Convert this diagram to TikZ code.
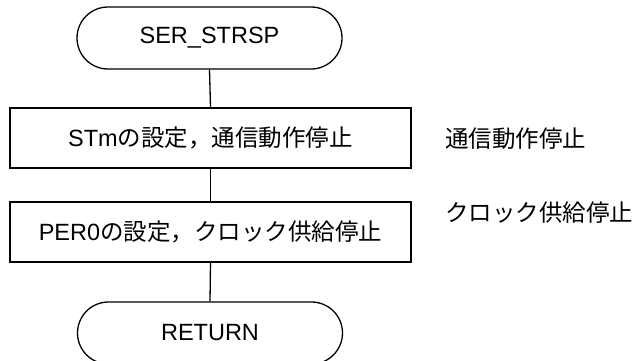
\documentclass[tikz,border=0pt]{standalone}
\usepackage{fontspec}
\setmainfont{Liberation Sans}
\newfontfamily\jp{Noto Sans CJK JP}
\usetikzlibrary{shapes.misc}
\begin{document}
\begin{tikzpicture}[x=1pt,y=-1pt,
  every node/.style={font=\fontsize{23.5}{28}\selectfont, inner sep=0pt},
  term/.style={draw, line width=1.3pt, rounded rectangle, minimum width=265pt, minimum height=62pt},
  proc/.style={draw, line width=1.3pt, rectangle, minimum width=401pt, minimum height=60pt},
  conn/.style={line width=1.3pt},
  note/.style={anchor=west}]
\useasboundingbox (0,0) rectangle (639,360);
\clip (0,0) rectangle (639,360);
\node[term] (start) at (209.5,38) {SER\_STRSP};
\node[proc] (p1) at (210.5,138) {STm{\jp の設定，通信動作停止}};
\node[proc] (p2) at (210.5,232) {PER0{\jp の設定，クロック供給停止}};
\node[term] (ret) at (210,333) {RETURN};
\node[note] (n1) at (445,139) {\jp 通信動作停止};
\node[note] (n2) at (445,213) {\jp クロック供給停止};
\draw[conn] (start.south) -- (p1.north);
\draw[conn] (p1.south) -- (p2.north);
\draw[conn] (p2.south) -- (ret.north);
\end{tikzpicture}
\end{document}
